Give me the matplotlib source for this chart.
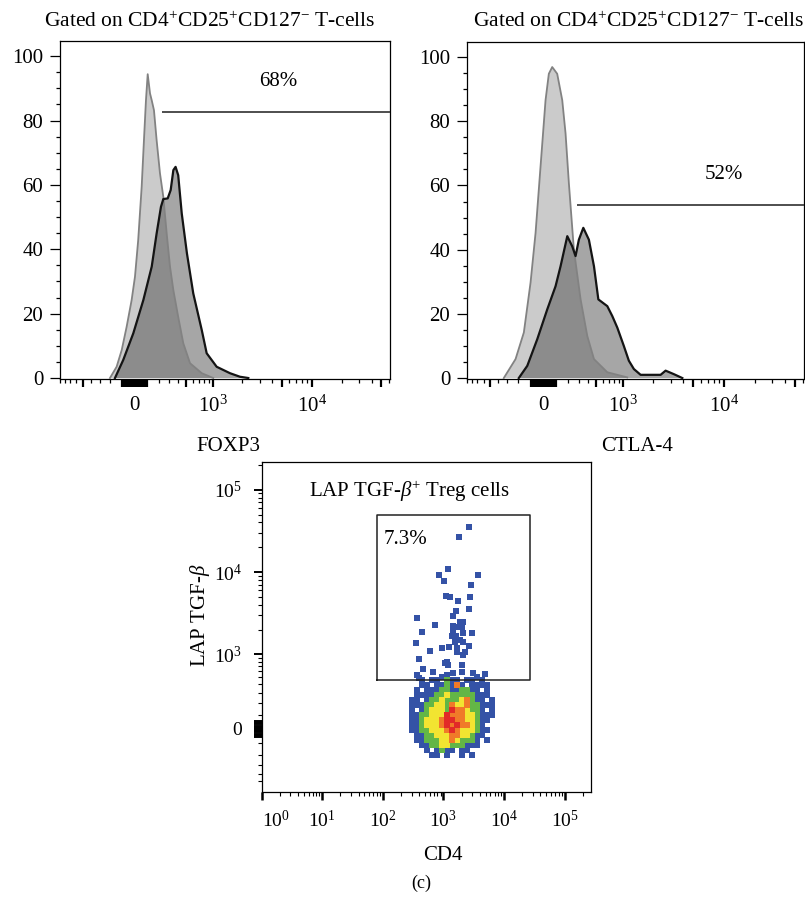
import math
import matplotlib
matplotlib.use('Agg')
import matplotlib.pyplot as plt
from matplotlib.ticker import FixedLocator, FuncFormatter, NullFormatter

plt.rcParams['font.family'] = ['Liberation Serif', 'DejaVu Serif']
plt.rcParams['mathtext.fontset'] = 'custom'
plt.rcParams['mathtext.rm'] = 'Liberation Serif'
plt.rcParams['mathtext.it'] = 'Liberation Serif:italic'
plt.rcParams['mathtext.bf'] = 'Liberation Serif:bold'

# ---------------- data ----------------
# FOXP3 histogram (x = fluorescence intensity, y = % of max)
foxp3_ctrl_x = [-200, -142, -100, -61, -22, 4, 29, 56, 74, 90, 104, 123, 137, 156, 179, 209, 240,
                273, 307, 343, 399, 463, 558, 757, 1006]
foxp3_ctrl_y = [0, 3.5, 8.7, 15.9, 24.2, 31.5, 42.9, 59.4, 73.9, 86.3, 94.4, 88.4, 86.3, 83.2, 73.9,
                63.6, 56.3, 44.9, 34.6, 27.3, 19, 10.8, 4.6, 1.5, 0]
foxp3_stain_x = [-156, -88, -9, 69, 137, 179, 218, 240, 283, 314, 343, 368, 399, 443, 513, 608, 757,
                 856, 1093, 1502, 1900, 2308]
foxp3_stain_y = [0, 5.6, 13.9, 24.2, 34.6, 44.9, 53.2, 55.6, 55.8, 58.4, 64.6, 65.6, 63, 51.1, 38.7,
                 26.3, 14.9, 7.7, 3.5, 1.5, 0.4, 0]
foxp3_gate = dict(start=227, level=82.7, label='68%', label_x=4600, label_y=92.2)

# CTLA-4 histogram
ctla4_ctrl_x = [-338, -222, -150, -96, -57, -19, 19, 44, 70, 109, 150, 178, 207, 253, 320, 394, 477,
                677, 1100]
ctla4_ctrl_y = [0, 5.9, 14.2, 29.7, 45.2, 65.9, 86.6, 94.8, 96.9, 94.8, 86.6, 76.2, 60.7, 40, 24.5,
                13.1, 5.9, 1.8, 0.2]
ctla4_stain_x = [-193, -122, -44, 32, 96, 136, 193, 238, 269, 302, 349, 413, 477, 537, 677, 767, 867,
                 1014, 1142, 1285, 1503, 2379, 2666, 3222, 3897]
ctla4_stain_y = [0, 3.8, 12.1, 21.4, 28.6, 34.8, 44.2, 41, 38, 43.1, 46.8, 43.1, 34.8, 24.5, 22.4,
                 19.3, 15.7, 10, 5.4, 2.8, 1.0, 1.0, 2.3, 1.2, 0]
ctla4_gate = dict(start=286, level=54, label='52%', label_x=10000, label_y=63.3)

# LAP TGF-beta vs CD4 pseudocolor plot: density-level cells of the core population
cd4_bins = [304, 368, 444, 538, 650, 787, 951, 1151, 1393, 1683, 2036, 2462, 2978, 3598, 4355, 5260, 6368]
lap_bins = [461, 390, 330, 275, 225, 181, 139, 100, 64, 28, -7, -42, -78, -115, -155, -198]
density_levels = [
    "..b.bb.gbb.bb.b..",
    "..bb.bbgbob.bbbb.",
    ".b.bbbggbbggbb.b.",
    ".bbbbggygggggbbb.",
    "bb.bggygggyogbb.b",
    "bbbggyygoyyoggbbb",
    "b.bgyyygrooyggb.b",
    "bbggyyyroooyygbbb",
    "bbgyyyorrooyygbb.",
    "bbgyyyororooygb..",
    "bbggyyyoroyyygbb.",
    ".bbggyyyooyygbb..",
    ".bbgggyyoygggb.b.",
    "..bbggyygggbbb...",
    "...b.bgbb.bb.....",
    "....bb.b..b.b....",
]
# sparse events (mostly LAP TGF-beta+), read individually
sparse_cd4 = [2606, 1837, 1209, 849, 3783, 1008, 2897, 1109, 1291, 2758, 1748, 2655, 372, 1462, 1620,
              1888, 2138, 716, 1770, 440, 2943, 1462, 1620, 2138, 1560, 2138, 355, 1256, 941, 1663,
              2606, 603, 2280, 2138, 397, 1067, 1209, 2013, 457, 1138, 2013, 3126, 4877, 364, 1462,
              397, 1462, 2013, 1377, 1888, 1663, 1138, 941, 684, 3560]
sparse_lap = [34800, 26300, 11060, 9100, 9100, 7800, 7070, 5130, 4950, 4920, 4460, 3570, 2770, 2920,
              3370, 2500, 2500, 2280, 2170, 1885, 1800, 1920, 1670, 1820, 1420, 1420, 1360, 1230, 1180,
              1180, 1240, 1100, 1070, 970, 865, 763, 726, 726, 640, 537, 580, 566, 549, 537, 566,
              490, 2190, 2170, 1650, 1490, 1070, 800, 510, 594, 510]
scatter_gate_x = [79.6, 26970]
scatter_gate_y = [461, 49350]
scatter_gate_label = '7.3%'

# ---------------- styling ----------------
W, H = 805, 910
fig = plt.figure(figsize=(W / 100, H / 100), dpi=100)


def box(l, t, r, b):
    return [l / W, 1 - b / H, (r - l) / W, (b - t) / H]


ax1 = fig.add_axes(box(60, 41, 390, 379))
ax2 = fig.add_axes(box(467, 42, 804, 379))
ax3 = fig.add_axes(box(261.5, 462, 590.7, 792))

HIST_XLIM = (-905, 61200)


def hist_panel(ax, cx, cy, sx, sy, gate):
    ax.set_xscale('asinh', linear_width=335)
    ax.fill_between(cx, cy, 0, facecolor='#cbcbcb', edgecolor='none', zorder=1)
    ax.fill_between(sx, sy, 0, facecolor=(0.31, 0.31, 0.31, 0.5), edgecolor='none', zorder=2)
    ax.plot(cx, cy, color='#828282', lw=1.3, zorder=3)
    ax.plot(sx, sy, color='#141414', lw=1.6, zorder=4)
    ax.hlines(gate['level'], gate['start'], HIST_XLIM[1] * 2, color='#404040', lw=1.3, zorder=5)
    ax.text(gate['label_x'], gate['label_y'], gate['label'], ha='center', va='center', fontsize=15)
    ax.set_xlim(*HIST_XLIM)
    ax.set_ylim(-0.3, 104.7)
    major = [-500] + list(range(-96, 97, 8)) + [500, 1000, 5000, 10000, 50000]
    minor = [-900, -800, -700, -600, -400, -300, -200, 200, 300, 400, 600, 700, 800, 900,
             2000, 3000, 4000, 6000, 7000, 8000, 9000, 20000, 30000, 40000, 60000]
    labels = {0: '0', 1000: r'$10^{3}$', 10000: r'$10^{4}$'}
    ax.xaxis.set_major_locator(FixedLocator(major))
    ax.xaxis.set_minor_locator(FixedLocator(minor))
    ax.xaxis.set_major_formatter(FuncFormatter(lambda v, p: labels.get(int(round(v)), '')))
    ax.xaxis.set_minor_formatter(NullFormatter())
    ax.yaxis.set_major_locator(FixedLocator([0, 20, 40, 60, 80, 100]))
    ax.yaxis.set_minor_locator(FixedLocator([v for v in range(5, 105, 5) if v % 20]))
    ax.tick_params(axis='x', which='major', length=6, width=1.6, pad=6, labelsize=15)
    ax.tick_params(axis='x', which='minor', length=3, width=0.9)
    ax.tick_params(axis='y', which='major', length=7, width=0.9, pad=5, labelsize=15)
    ax.tick_params(axis='y', which='minor', length=3, width=0.9)
    for s in ax.spines.values():
        s.set_linewidth(0.9)


hist_panel(ax1, foxp3_ctrl_x, foxp3_ctrl_y, foxp3_stain_x, foxp3_stain_y, foxp3_gate)
hist_panel(ax2, ctla4_ctrl_x, ctla4_ctrl_y, ctla4_stain_x, ctla4_stain_y, ctla4_gate)

title = r'Gated on CD4$^{+}$CD25$^{+}$CD127$^{-}$ T-cells'
fig.text(210 / W, 1 - 22 / H, title, ha='center', va='center', fontsize=15.5)
fig.text(639 / W, 1 - 22 / H, title, ha='center', va='center', fontsize=15.5)
fig.text(228 / W, 1 - 446 / H, 'FOXP3', ha='center', va='center', fontsize=15)
fig.text(637 / W, 1 - 446 / H, 'CTLA-4', ha='center', va='center', fontsize=15)

# ---------------- scatter ----------------
colors = {'b': '#3452a6', 'g': '#63b646', 'y': '#f2e431', 'o': '#f07a29', 'r': '#e22a28'}
ax3.set_xscale('log')
ax3.set_yscale('asinh', linear_width=250)
ax3.scatter(sparse_cd4, sparse_lap, marker='s', s=17, color=colors['b'], linewidths=0, zorder=2)
for key in 'bgyor':
    xs, ys = [], []
    for r, row in enumerate(density_levels):
        for c, ch in enumerate(row):
            if ch == key:
                xs.append(cd4_bins[c])
                ys.append(lap_bins[r])
    ax3.scatter(xs, ys, marker='s', s=15, color=colors[key], linewidths=0, zorder=3)

gx0, gx1 = scatter_gate_x
gy0, gy1 = scatter_gate_y
ax3.plot([gx0, gx1, gx1, gx0, gx0], [gy0, gy0, gy1, gy1, gy0], color='#222222', lw=1.1, zorder=4)
ax3.text(240, 25200, scatter_gate_label, ha='center', va='center', fontsize=15)
ax3.text(0.451, 0.91, r'LAP TGF-$\beta^{+}$ Treg cells', transform=ax3.transAxes,
         ha='center', va='center', fontsize=15)
ax3.set_xlim(1, 270400)
ax3.set_ylim(-705, 216700)

xmaj = [1, 10, 100, 1000, 10000, 100000]
xmin = [m * d for d in [1, 10, 100, 1000, 10000] for m in range(2, 10)] + [200000]
ax3.xaxis.set_major_locator(FixedLocator(xmaj))
ax3.xaxis.set_minor_locator(FixedLocator(xmin))
ax3.xaxis.set_major_formatter(FuncFormatter(lambda v, p: r'$10^{%d}$' % round(math.log10(v))))
ax3.xaxis.set_minor_formatter(NullFormatter())

ymaj = list(range(-56, 57, 8)) + [1000, 10000, 100000]
ymin = [-500, -400, -300, -200, -100] + list(range(100, 1000, 100)) + \
       list(range(2000, 10000, 1000)) + list(range(20000, 100000, 10000)) + [200000]
ylabels = {0: '0', 1000: r'$10^{3}$', 10000: r'$10^{4}$', 100000: r'$10^{5}$'}
ax3.yaxis.set_major_locator(FixedLocator(ymaj))
ax3.yaxis.set_minor_locator(FixedLocator(ymin))
ax3.yaxis.set_major_formatter(FuncFormatter(lambda v, p: ylabels.get(int(round(v)), '')))
ax3.yaxis.set_minor_formatter(NullFormatter())
ax3.tick_params(axis='x', which='major', length=6, width=1.8, pad=7, labelsize=14)
ax3.tick_params(axis='x', which='minor', length=3, width=0.8)
ax3.tick_params(axis='y', which='major', length=6, width=1.4, pad=8, labelsize=14)
ax3.tick_params(axis='y', which='minor', length=3, width=0.8)
for s in ax3.spines.values():
    s.set_linewidth(0.9)

fig.text(200 / W, 1 - 615 / H, r'LAP TGF-$\beta$', rotation=90, ha='center', va='center', fontsize=15)
fig.text(443 / W, 1 - 855 / H, 'CD4', ha='center', va='center', fontsize=15)
fig.text(421 / W, 1 - 883 / H, '(c)', ha='center', va='center', fontsize=13)

fig.canvas.draw()
for lab in ax3.get_xticklabels():
    if lab.get_text() == r'$10^{0}$':
        lab.set_horizontalalignment('left')

fig.savefig('out.png', dpi=100)
